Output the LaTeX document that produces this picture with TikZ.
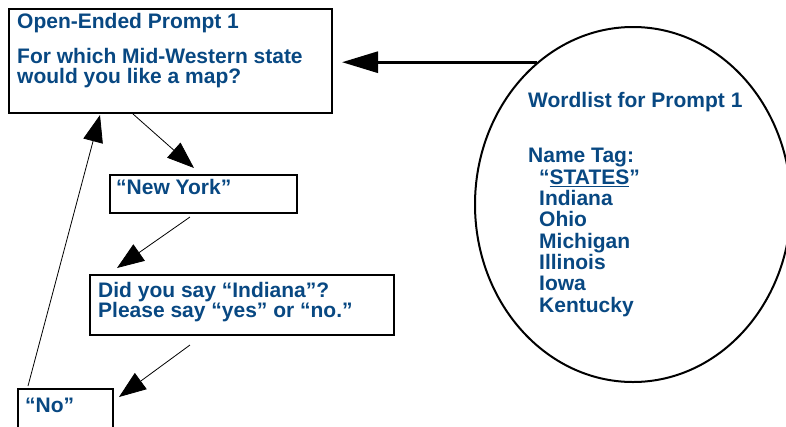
\documentclass[tikz,border=0pt]{standalone}
\usepackage{fontspec}
\setmainfont{Liberation Sans}
\usetikzlibrary{arrows.meta,shapes.geometric}

\definecolor{promptblue}{RGB}{8,72,130}

\tikzset{
    box/.style={draw, line width=2pt, anchor=north west, inner sep=0pt},
    words/.style={anchor=base west, inner sep=0pt, text=promptblue, align=left,
        font=\fontsize{21}{20}\selectfont\bfseries},
    flow/.style={line width=0.8pt, -{Triangle[length=27pt,width=20pt]}},
    bigflow/.style={line width=3pt, -{Triangle[length=36pt,width=21pt]}},
}

\begin{document}
\begin{tikzpicture}[x=1pt,y=-1pt]
    \useasboundingbox (0,0) rectangle (786,426);
    \clip (0,0) rectangle (786,426);

    % Boxes
    \node[box, minimum width=323pt, minimum height=104pt] (prompt) at (8,8)   {};
    \node[box, minimum width=187pt, minimum height=38pt]  (ny)     at (109,174) {};
    \node[box, minimum width=304pt, minimum height=60pt]  (did)    at (89,274)  {};
    \node[box, minimum width=95pt,  minimum height=52pt]  (no)     at (17,388)  {};

    % Wordlist
    \node[draw, ellipse, line width=2pt, minimum width=316pt, minimum height=355pt]
        (wordlist) at (633,204.5) {};

    % Texts (multi-line ones sit on their last baseline)
    \node[words] (prompttitle) at (17,28)  {Open-Ended Prompt 1};
    \node[words] (promptq)     at (17,83)  {For which Mid-Western state\\would you like a map?};
    \node[words] (nytext)      at (116,194) {“New York”};
    \node[words] (didtext)     at (98,317) {Did you say “Indiana”?\\Please say “yes” or “no.”};
    \node[words] (notext)      at (25,412) {“No”};

    \node[words] (wltitle) at (528,107) {Wordlist for Prompt 1};
    \node[words, font=\fontsize{21}{21.3}\selectfont\bfseries] (wllist) at (528,312)
        {Name Tag:\\
         \hspace*{11pt}“\underline{STATES}”\\
         \hspace*{11pt}Indiana\\
         \hspace*{11pt}Ohio\\
         \hspace*{11pt}Michigan\\
         \hspace*{11pt}Illinois\\
         \hspace*{11pt}Iowa\\
         \hspace*{11pt}Kentucky};

    % Arrows
    \draw[bigflow] (wordlist.124.35) -- ([xshift=9pt]prompt.east |- wordlist.124.35);
    \draw[flow] ([xshift=125pt]prompt.south west) -- ([xshift=85pt,yshift=6pt]ny.north west);
    \draw[flow] ([xshift=81pt,yshift=-3pt]ny.south west) -- ([xshift=28pt,yshift=6pt]did.north west);
    \draw[flow] ([xshift=101pt,yshift=-9pt]did.south west) -- ([xshift=5pt,yshift=-9pt]no.north east);
    \draw[flow] ([xshift=11pt,yshift=2pt]no.north west) -- ([xshift=92pt,yshift=-1pt]prompt.south west);
\end{tikzpicture}
\end{document}
